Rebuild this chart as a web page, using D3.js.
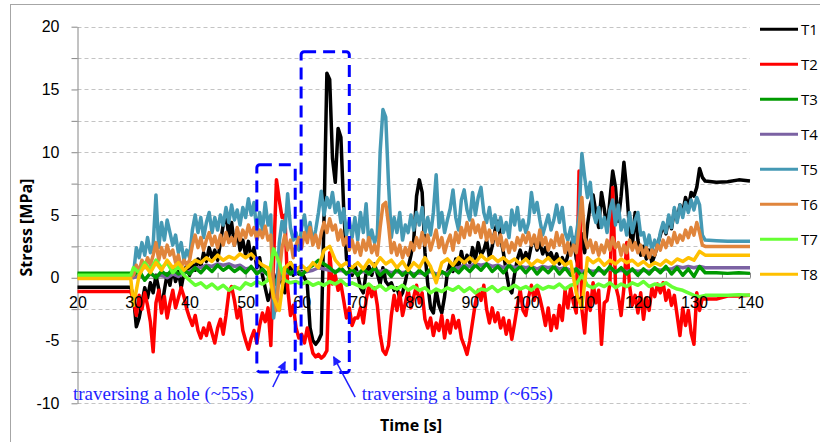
<!DOCTYPE html>
<html>
<head>
<meta charset="utf-8">
<script src="https://cdn.jsdelivr.net/npm/d3@7"></script>
<style>
  body { margin: 0; background: #fff; }
  svg { display: block; }
</style>
</head>
<body>
<script>
// series names and line colours
var seriesNames = ['T1', 'T2', 'T3', 'T4', 'T5', 'T6', 'T7', 'T8'];
var seriesColors = ['#000000', '#ff0000', '#009a00', '#7b62a3', '#4599b4', '#e0853c', '#66ff33', '#ffc000'];
// T4 sits under T3 in the picture
var drawOrder = [0, 1, 3, 2, 4, 5, 6, 7];

// sampling of the recorded part (30 s .. 132 s)
var timeStart = 30;
var fineStep = 0.5;
var coarseStep = 1;

// flat part before the run and settled part after it
var leadTimes = [20, 29.5];
var leadLevels = [-0.75, -1.1, 0.35, 0.05, 0.1, 0.05, 0.2, -0.05];
var tailTimes = [134, 136, 138, 140];

// T1, T2, T5, T6 every 0.5 s
var t1Values = [
  -1.5, -3.9, -3.2, -2.0, -0.8, -1.6, -0.4, -1.2, 0.2, -0.9, -2.5, -1.0, 0.3, -0.6, 0.8, -0.3, 0.5, -0.8, 0.4, 1.0,
  0.2, 1.2, 0.6, 1.5, 0.9, 2.0, 1.3, 2.4, 1.6, 2.2, 1.4, 2.8, 4.2, 5.1, 3.3, 4.4, 2.6, 3.8, 2.2, 3.0,
  1.8, 2.9, 1.5, 2.4, 0.8, 1.6, 0.2, -0.8, -1.8, -1.2, 0.3, -0.5, 1.0, -0.4, -1.2, 0.4, 1.2, 0.2, 0.8, 0.3,
  0.5, 0.0, -0.5, -4.0, -5.0, -5.3, -5.0, -4.5, 5.0, 16.3, 15.8, 9.5, 7.6, 11.9, 11.2, 5.5, 1.5, 0.8, 0.2, 1.0,
  0.3, -0.8, -1.2, 0.4, 0.9, 0.2, 1.1, 0.3, -0.5, 0.8, -0.3, -0.6, -0.4, -1.0, -0.8, -1.6, -1.2, -0.3, 0.8, 1.8,
  3.0, 6.5, 7.8, 6.8, 2.0, -0.5, -2.4, -2.8, -1.0, -2.2, -2.8, -1.5, 0.4, 1.2, 0.5, 1.5, 0.8, 2.1, 1.0, 1.8,
  1.2, 2.4, 1.5, 2.8, 1.8, 2.2, 3.0, 1.6, 2.5, 3.8, 4.5, 3.2, 2.0, 0.5, -0.8, -1.2, 0.3, 1.5, 2.2, 1.4,
  2.0, 1.5, 2.6, 3.1, 2.2, 2.8, 1.9, 2.4, 1.6, 2.0, 1.3, 1.9, 1.1, 1.6, 1.0, 1.8, 2.5, 3.2, 1.5, 0.8,
  3.5, 2.0, 4.2, 5.8, 6.6, 5.2, 4.0, 6.8, 5.5, 3.8, 6.2, 8.5, 7.2, 4.5, 6.5, 9.2, 7.0, 3.8, 2.5, 5.2,
  3.0, 1.8, 2.5, 1.5, 2.2, 1.2, 1.8, 2.6, 3.4, 4.2, 3.5, 4.8, 3.9, 5.4, 4.6, 5.8, 5.2, 6.4, 5.6, 6.8,
  6.5, 7.2, 8.7, 8.0, 7.7
];
var t2Values = [
  -1.8, -3.0, -1.4, -2.5, -1.2, -2.2, -3.5, -5.9, -2.0, -1.0, -2.8, -1.5, -3.2, -2.0, -1.0, -2.4, -1.6, -0.8, -1.5, -2.5,
  -3.2, -3.8, -3.0, -4.2, -4.8, -4.0, -4.6, -3.6, -4.4, -5.2, -4.0, -3.3, -4.5, -3.0, -1.2, -0.7, -1.8, -3.2, -2.4, -4.2,
  -5.0, -5.7, -4.8, -4.2, -5.2, -3.8, -2.8, -3.5, -2.4, -5.4, 1.5, 7.8, 6.2, 4.8, 5.0, -0.8, -3.0, -2.2, -4.0, -4.8,
  -4.5, -5.2, -4.0, -5.0, -6.0, -6.3, -6.1, -6.4, -6.2, -5.8, 2.0, -0.5, 0.2, -1.0, -0.5, -1.8, -3.2, -2.4, -3.8, -3.2,
  -3.2, -2.4, -3.6, -1.8, -0.6, -1.5, -0.8, -2.2, -4.5, -5.8, -6.1, -5.4, -3.0, -1.4, -2.6, -1.2, -3.0, -2.0, -1.0, -2.4,
  -1.5, -0.6, -2.0, -1.2, -3.3, -4.0, -3.2, -4.6, -3.6, -4.2, -3.0, -4.8, -3.4, -4.4, -3.0, -4.0, -3.4, -4.8, -5.4, -6.1,
  -5.0, -3.5, -2.0, -1.0, -1.8, -0.6, -2.5, -3.6, -2.4, -3.5, -2.8, -4.0, -3.2, -4.5, -3.4, -4.9, -3.6, -2.2, -1.0, -2.6,
  -3.0, -1.5, -0.6, -1.8, -0.8, -1.6, -2.6, -3.8, -2.4, -4.2, -3.0, -4.0, -2.2, -3.4, -1.0, -2.4, -0.8, -2.0, -2.8, 8.5,
  -2.5, -4.4, -1.2, -2.6, -0.4, -2.0, -1.0, -5.3, -2.0, -1.8, -0.5, 7.2, -0.6, -1.5, -3.0, -0.8, 2.8, -0.6, -2.2, -1.4,
  -2.8, -1.2, -3.3, -1.6, -2.6, -0.8, -1.5, -0.5, -1.2, -0.4, -1.8, -1.0, -2.2, -1.4, -3.0, -4.6, -2.4, -3.8, -2.6, -4.4,
  -5.3, -1.2, -2.6, -1.6, -1.7
];
var t5Values = [
  0.3, 2.4, 1.6, 2.8, 1.8, 3.2, 2.0, 2.6, 6.6, 2.4, 4.4, 3.0, 4.6, 3.6, 2.6, 3.4, 2.0, 2.8, 1.4, 2.2,
  1.6, 3.8, 5.0, 3.6, 4.8, 3.2, 4.4, 5.2, 3.6, 4.8, 3.8, 5.0, 4.2, 5.6, 4.4, 5.8, 4.6, 5.4, 4.2, 5.6,
  4.8, 6.3, 5.0, 6.0, 3.6, 5.2, 3.8, 6.0, 4.2, 5.0, -3.2, -1.5, 2.8, 4.5, 3.6, 6.7, 4.0, 3.0, 3.6, 2.2,
  4.0, 5.0, 3.2, 4.4, 2.8, 3.8, 5.2, 6.9, 5.0, 6.4, 5.6, 6.8, 5.2, 6.0, 4.4, 5.5, 3.4, 4.6, 3.2, 4.8,
  3.0, 5.2, 3.6, 5.9, 2.6, 3.8, 2.8, 3.4, 10.0, 13.4, 12.8, 7.5, 3.2, 4.8, 3.6, 5.2, 3.0, 4.2, 3.6, 5.0,
  3.8, 5.2, 4.2, 5.6, 3.6, 4.8, 3.4, 5.2, 8.2, 4.0, 5.2, 3.6, 4.6, 5.5, 7.0, 4.8, 3.8, 6.2, 7.0, 5.4,
  4.6, 6.8, 5.0, 6.4, 7.2, 5.2, 4.4, 5.6, 4.0, 5.0, 3.8, 4.8, 3.6, 4.4, 3.2, 5.4, 4.2, 5.6, 3.8, 4.6,
  3.6, 4.4, 6.8, 5.2, 6.0, 4.6, 3.4, 4.2, 5.0, 3.8, 4.6, 5.8, 4.4, 5.6, 3.6, 3.0, 4.0, 2.6, 3.4, 5.0,
  9.9, 8.0, 6.4, 7.6, 5.2, 4.4, 5.6, 4.0, 4.8, 3.6, 5.4, 6.2, 4.2, 5.8, 3.8, 4.6, 3.4, 5.2, 3.6, 4.6,
  5.2, 3.4, 3.6, 2.4, 3.4, 2.2, 3.0, 2.4, 3.6, 4.4, 3.6, 5.0, 4.0, 5.6, 4.4, 5.8, 4.8, 6.0, 5.2, 6.2,
  5.4, 6.4, 5.8, 3.4, 3.0
];
var t6Values = [
  0.2, 1.0, 0.5, 1.4, 0.8, 1.6, 1.0, 1.8, 2.8, 1.4, 2.4, 1.6, 2.6, 1.8, 2.2, 1.2, 1.8, 0.8, 1.4, 1.0,
  1.4, 2.6, 3.4, 2.4, 3.2, 2.2, 3.0, 3.6, 2.6, 3.3, 2.4, 3.4, 2.6, 3.6, 2.8, 3.2, 2.6, 4.0, 3.0, 3.8,
  3.2, 4.2, 3.4, 4.0, 3.0, 3.8, 3.2, 4.1, 3.0, 3.4, -1.2, -2.6, 0.4, 2.4, 3.4, 2.2, 3.0, 1.6, 2.6, 3.2,
  2.4, 3.6, 2.8, 4.0, 2.6, 3.4, 2.4, 3.6, 4.4, 3.6, 4.7, 3.8, 4.2, 3.0, 3.8, 2.6, 3.2, 2.2, 3.0, 2.0,
  2.8, 1.8, 3.0, 2.2, 3.2, 2.0, 2.6, 1.8, 4.0, 5.8, 6.0, 4.2, 2.0, 2.8, 1.8, 2.6, 1.6, 2.4, 1.8, 2.8,
  2.2, 3.2, 2.4, 3.6, 2.6, 3.4, 2.2, 3.0, 3.8, 2.4, 3.2, 2.0, 2.8, 3.4, 2.2, 3.6, 2.8, 4.0, 3.2, 4.4,
  3.4, 4.6, 3.6, 4.2, 3.2, 4.4, 3.0, 3.8, 2.8, 3.6, 2.6, 3.4, 2.2, 3.0, 2.0, 2.8, 2.2, 3.2, 2.6, 3.4,
  2.8, 3.6, 2.6, 3.4, 2.4, 3.8, 2.6, 3.2, 2.2, 3.0, 2.4, 3.6, 2.6, 3.4, 2.0, 2.8, 1.8, 2.6, 2.0, 4.0,
  6.4, 3.2, 2.4, 3.0, 2.0, 2.8, 1.8, 2.6, 2.0, 3.0, 2.2, 3.2, 2.4, 2.8, 1.8, 2.6, 2.0, 3.0, 2.2, 2.8,
  2.0, 2.6, 1.8, 2.4, 1.6, 2.2, 1.8, 2.6, 2.2, 3.0, 2.4, 3.2, 2.6, 3.6, 2.8, 3.4, 3.0, 3.8, 3.2, 4.0,
  3.4, 4.4, 3.6, 2.6, 2.5
];

// T3, T4, T7, T8 every 1 s
var t3Values = [
  0.2, 0.6, -0.2, 0.4, 0.0, 0.5, 0.2, 0.7, 0.3, 0.6,
  0.3, 0.8, 0.4, 0.9, 0.5, 1.0, 0.6, 0.9, 0.5, 0.8,
  0.4, 0.9, 0.3, 0.7, 0.2, -0.6, 0.2, 0.8, 0.3, 0.7,
  0.2, 0.7, 1.0, 1.4, 1.1, 0.8, 0.4, 0.8, 0.3, 0.7,
  0.2, 0.7, 0.3, 0.8, 0.2, 0.6, 0.1, 0.7, 0.2, 0.6,
  0.1, 0.6, 0.2, 0.7, 0.0, 0.5, 0.2, 0.8, 0.4, 0.9,
  0.5, 1.0, 0.6, 1.1, 0.5, 0.9, 0.4, 1.0, 0.5, 0.9,
  0.4, 0.9, 0.3, 0.8, 0.4, 0.9, 0.3, 0.8, 0.2, 0.7,
  0.1, 0.7, 0.2, 0.8, 0.3, 0.9, 0.4, 0.8, 0.3, 0.7,
  0.2, 0.7, 0.3, 0.8, 0.4, 0.9, 0.3, 0.8, 0.2, 0.7,
  0.1, 0.9, 0.4
];
var t4Values = [
  0.0, 0.2, -0.1, 0.3, 0.1, 0.2, 0.0, 0.3, 0.1, 0.4,
  0.5, 0.8, 0.8, 1.0, 0.9, 1.1, 1.0, 1.1, 0.9, 1.0,
  0.7, 0.8, 0.5, 0.5, 0.3, -0.4, -0.2, 0.4, 0.4, 0.5,
  0.4, 0.5, 0.6, 0.8, 0.7, 0.6, 0.5, 0.6, 0.4, 0.5,
  0.4, 0.5, 0.4, 0.6, 0.5, 0.6, 0.4, 0.5, 0.4, 0.5,
  0.3, 0.4, 0.3, 0.5, 0.3, 0.4, 0.4, 0.7, 0.8, 1.0,
  0.9, 1.1, 1.0, 1.1, 0.9, 1.0, 0.8, 1.0, 0.8, 0.9,
  0.8, 0.9, 0.7, 0.9, 0.8, 0.9, 0.7, 0.8, 0.6, 0.7,
  0.5, 0.6, 0.5, 0.6, 0.5, 0.7, 0.5, 0.6, 0.5, 0.6,
  0.5, 0.6, 0.5, 0.7, 0.6, 0.7, 0.7, 0.9, 0.8, 0.9,
  0.8, 0.9, 0.8
];
var t7Values = [
  0.8, 0.4, 1.2, 0.6, 1.4, 0.8, 1.2, 0.4, 0.9, 0.2,
  -0.2, -0.6, -0.4, -0.8, -0.5, -0.9, -0.6, -1.0, -0.7, -0.9,
  -0.4, -0.6, -0.3, -0.5, -0.2, 2.3, 1.2, -0.2, -0.4, -0.3,
  -0.5, -0.3, -0.6, -0.4, -0.6, -0.3, -0.5, -0.2, -0.6, -0.4,
  -0.6, -0.8, -0.5, -0.9, -0.6, -1.0, -0.7, -0.9, -0.6, -1.0,
  -0.7, -1.0, -0.8, -1.2, -0.9, -1.1, -0.8, -1.0, -0.7, -1.1,
  -0.8, -1.2, -0.9, -1.0, -0.7, -1.1, -0.8, -0.9, -0.6, -0.9,
  -0.7, -1.0, -0.6, -0.9, -0.7, -0.8, -0.5, -0.9, -0.6, -0.5,
  0.2, -0.6, -0.8, -0.5, -0.7, -0.4, -0.8, -0.5, -0.7, -0.4,
  -0.6, -0.3, -0.7, -0.5, -0.6, -0.4, -0.7, -0.9, -1.0, -1.2,
  -1.4, -1.5, -1.4
];
var t8Values = [
  -2.2, 0.2, 1.0, 0.4, 1.2, 0.6, 1.4, 0.8, 1.2, 0.6,
  1.0, 1.4, 1.2, 1.6, 1.3, 1.8, 1.4, 1.7, 1.5, 1.9,
  1.6, 1.9, 1.4, 1.0, 0.8, -1.6, -2.6, 0.8, 1.2, 0.6,
  1.0, 0.6, 1.2, 0.8, 2.2, 2.5, 1.4, 0.9, 1.2, 0.8,
  1.2, 0.7, 1.4, 0.9, 1.6, 1.1, 1.4, 0.8, 1.3, 0.6,
  1.2, 0.8, 1.6, 0.9, -0.4, 1.2, 1.5, 1.0, 1.6, 1.2,
  1.6, 1.2, 1.8, 1.4, 1.7, 1.3, 1.6, 1.2, 1.5, 1.1,
  1.5, 1.0, 1.4, 1.2, 1.6, 1.1, 1.5, 1.0, 1.3, -1.2,
  -2.4, 1.6, 1.2, 1.5, 1.0, 1.4, 1.1, 1.5, 1.2, 1.4,
  1.0, 1.3, 0.9, 1.2, 1.0, 1.4, 1.1, 1.5, 1.3, 1.6,
  1.4, 2.1, 1.8
];

// settled values at tailTimes
var t1Tail = [7.6, 7.65, 7.8, 7.7];
var t2Tail = [-1.7, -1.45, -1.45, -1.4];
var t3Tail = [0.4, 0.35, 0.4, 0.35];
var t4Tail = [0.8, 0.8, 0.8, 0.8];
var t5Tail = [2.95, 2.9, 2.9, 2.9];
var t6Tail = [2.5, 2.5, 2.5, 2.5];
var t7Tail = [-1.4, -1.4, -1.35, -1.4];
var t8Tail = [1.8, 1.8, 1.8, 1.8];

// axes
var xTickValues = [20, 25, 30, 35, 40, 45, 50, 55, 60, 65, 70, 75, 80, 85, 90, 95, 100, 105, 110, 115, 120, 125, 130, 135, 140];
var xTickLabels = [20, 30, 40, 50, 60, 70, 80, 90, 100, 110, 120, 130, 140];
var yGridLevels = [-10, -7.5, -5, -2.5, 0, 2.5, 5, 7.5, 10, 12.5, 15, 17.5, 20];
var yTickLabels = [-10, -5, 0, 5, 10, 15, 20];

// annotation boxes [t from, t to, stress bottom, stress top] and arrows [t0, v0, t1, v1]
var holeBox = [52, 58.85, -7.5, 9];
var bumpBox = [59.9, 68.5, -7.55, 18];
var holeArrow = [54.85, -8.7, 57.05, -6.7];
var bumpArrow = [69.55, -9.5, 65.7, -6.3];
var holeNote = 'traversing a hole (~55s)';
var bumpNote = 'traversing a bump (~65s)';
var holeNoteAt = [19.2, -9.2];
var bumpNoteAt = [70.7, -9.2];

var chart = function() {
  var width = 820;
  var height = 442;
  var svg, x, y;
  var fineSeries = [t1Values, t2Values, null, null, t5Values, t6Values, null, null];
  var coarseSeries = [null, null, t3Values, t4Values, null, null, t7Values, t8Values];
  var tails = [t1Tail, t2Tail, t3Tail, t4Tail, t5Tail, t6Tail, t7Tail, t8Tail];

  var initialize = function() {
    x = d3.scaleLinear().domain([20, 140]).range([77.5, 750]);
    y = d3.scaleLinear().domain([-10, 20]).range([403.3, 26.7]);
  };

  var createSvg = function() {
    svg = d3.select('body')
      .append('svg')
      .attr('width', width)
      .attr('height', height)
      .style('font-family', "'Open Sans', sans-serif");

    svg.append('rect')
      .attr('x', 10.5)
      .attr('y', 4.5)
      .attr('width', 840)
      .attr('height', 480)
      .style('fill', 'none')
      .style('stroke', '#a6a6a6');

    var defs = svg.append('defs');
    defs.append('marker')
      .attr('id', 'arrow')
      .attr('viewBox', '0 0 10 10')
      .attr('refX', 9)
      .attr('refY', 5)
      .attr('markerWidth', 7)
      .attr('markerHeight', 6)
      .attr('orient', 'auto')
      .append('path')
      .attr('d', 'M0,0 L10,5 L0,10 z')
      .style('fill', '#1f1fff');
  };

  var drawGrid = function() {
    svg.append('g')
      .selectAll('line')
      .data(yGridLevels.filter(function(v) { return v !== 0; }))
      .enter()
      .append('line')
      .attr('x1', x(20))
      .attr('x2', x(140))
      .attr('y1', function(v) { return Math.round(y(v)) + 0.5; })
      .attr('y2', function(v) { return Math.round(y(v)) + 0.5; })
      .style('stroke', '#c4c4c4')
      .style('stroke-dasharray', '4,3');
  };

  var styleAxis = function(g) {
    g.select('.domain').attr('stroke', '#868686');
    g.selectAll('.tick line').attr('stroke', '#868686');
    g.selectAll('.tick text').attr('fill', '#000').style('font-size', '16px');
  };

  var drawAxes = function() {
    var yAxis = svg.append('g')
      .attr('transform', 'translate(' + x(20) + ',0)')
      .call(d3.axisLeft(y)
        .tickValues(yGridLevels)
        .tickSize(6)
        .tickSizeOuter(0)
        .tickPadding(12)
        .tickFormat(function(v) { return yTickLabels.indexOf(v) >= 0 ? String(v) : ''; }));
    styleAxis(yAxis);

    // x axis line and ticks sit under the series
    var xAxis = svg.append('g')
      .attr('transform', 'translate(0,' + y(0) + ')')
      .call(d3.axisBottom(x)
        .tickValues(xTickValues)
        .tickSize(-5)
        .tickSizeOuter(0)
        .tickFormat(''));
    styleAxis(xAxis);

    svg.append('text')
      .attr('transform', 'translate(26,' + y(4) + ') rotate(-90)')
      .attr('text-anchor', 'middle')
      .attr('dominant-baseline', 'central')
      .style('font-size', '16px')
      .style('font-weight', 'bold')
      .text('Stress [MPa]');

    svg.append('text')
      .attr('x', x(79.5))
      .attr('y', 425)
      .attr('text-anchor', 'middle')
      .attr('dominant-baseline', 'central')
      .style('font-size', '16px')
      .style('font-weight', 'bold')
      .text('Time [s]');
  };

  // x tick labels are drawn over the lines
  var drawXLabels = function() {
    var labels = svg.append('g')
      .attr('transform', 'translate(0,' + y(0) + ')')
      .call(d3.axisBottom(x)
        .tickValues(xTickLabels)
        .tickSize(0)
        .tickPadding(19)
        .tickFormat(function(v) { return String(v); }));
    labels.select('.domain').remove();
    styleAxis(labels);
  };

  var buildPoints = function(i) {
    var points = leadTimes.map(function(t) { return {t: t, v: leadLevels[i]}; });
    var values = fineSeries[i] || coarseSeries[i];
    var step = fineSeries[i] ? fineStep : coarseStep;
    values.forEach(function(v, k) {
      points.push({t: timeStart + k * step, v: v});
    });
    tailTimes.forEach(function(t, k) {
      points.push({t: t, v: tails[i][k]});
    });
    return points;
  };

  var drawSeries = function() {
    var line = d3.line()
      .x(function(d) { return x(d.t); })
      .y(function(d) { return y(d.v); });

    drawOrder.forEach(function(i) {
      svg.append('path')
        .datum(buildPoints(i))
        .attr('d', line)
        .style('fill', 'none')
        .style('stroke', seriesColors[i])
        .style('stroke-width', 3.5)
        .style('stroke-linejoin', 'round');
    });
  };

  var drawLegend = function() {
    for(var i = 0; i < seriesNames.length; i++) {
      var ly = 29.3 + i * 35;
      svg.append('line')
        .attr('x1', 760)
        .attr('x2', 798)
        .attr('y1', ly)
        .attr('y2', ly)
        .style('stroke', seriesColors[i])
        .style('stroke-width', 3);
      svg.append('text')
        .attr('x', 801)
        .attr('y', ly)
        .attr('dominant-baseline', 'central')
        .style('font-size', '15px')
        .text(seriesNames[i]);
    }
  };

  var drawBox = function(box) {
    svg.append('rect')
      .attr('x', x(box[0]))
      .attr('y', y(box[3]))
      .attr('width', x(box[1]) - x(box[0]))
      .attr('height', y(box[2]) - y(box[3]))
      .attr('rx', 3)
      .style('fill', 'none')
      .style('stroke', '#0000ff')
      .style('stroke-width', 3)
      .style('stroke-dasharray', '12,7');
  };

  var drawArrow = function(a) {
    svg.append('line')
      .attr('x1', x(a[0]))
      .attr('y1', y(a[1]))
      .attr('x2', x(a[2]))
      .attr('y2', y(a[3]))
      .style('stroke', '#1f1fff')
      .style('stroke-width', 1.5)
      .attr('marker-end', 'url(#arrow)');
  };

  var drawNote = function(text, at) {
    svg.append('text')
      .attr('x', x(at[0]))
      .attr('y', y(at[1]))
      .attr('dominant-baseline', 'central')
      .style('font-family', "'Liberation Serif', serif")
      .style('font-size', '19px')
      .style('fill', '#1f1fff')
      .text(text);
  };

  var drawNotes = function() {
    drawBox(holeBox);
    drawBox(bumpBox);
    drawArrow(holeArrow);
    drawArrow(bumpArrow);
    drawNote(holeNote, holeNoteAt);
    drawNote(bumpNote, bumpNoteAt);
  };

  return {
    initialize: initialize,
    createSvg: createSvg,
    drawGrid: drawGrid,
    drawAxes: drawAxes,
    drawSeries: drawSeries,
    drawXLabels: drawXLabels,
    drawLegend: drawLegend,
    drawNotes: drawNotes
  };
}();

chart.initialize();
chart.createSvg();
chart.drawGrid();
chart.drawAxes();
chart.drawSeries();
chart.drawXLabels();
chart.drawLegend();
chart.drawNotes();
</script>
</body>
</html>
